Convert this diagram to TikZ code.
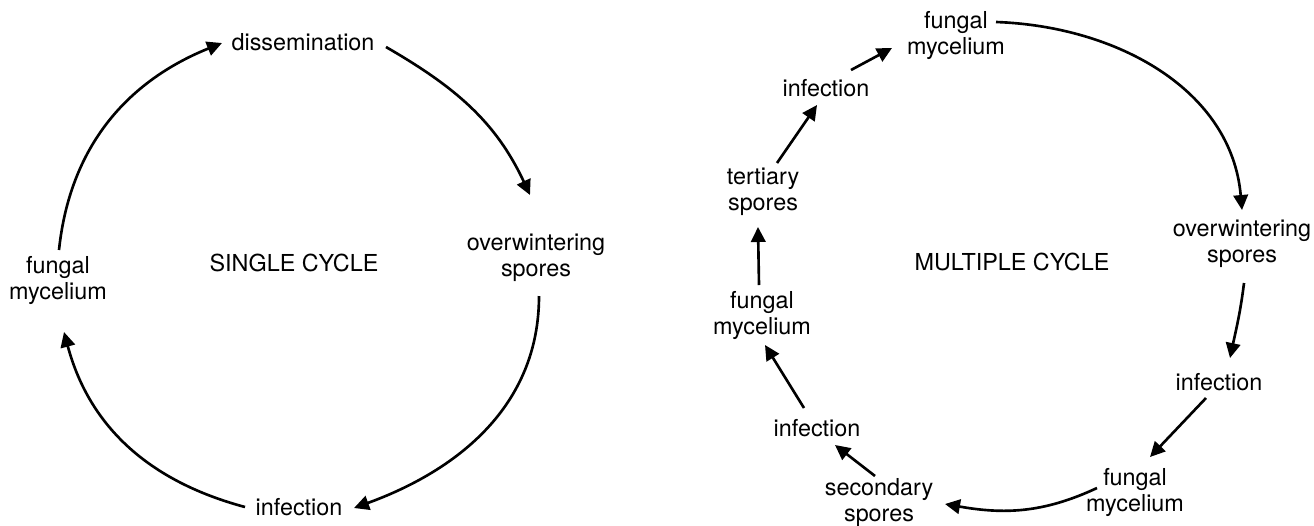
\documentclass[tikz,border=0pt]{standalone}
\usepackage{fontspec}
\setmainfont{TeX Gyre Heros}
\usetikzlibrary{arrows.meta}
\begin{document}
\begin{tikzpicture}[x=0.02cm,y=0.02cm,
  lbl/.style={font=\fontsize{13.3}{14.8}\selectfont, align=center, inner sep=0pt},
  flow/.style={line width=1.5pt, -{Triangle[length=0.3cm,width=0.29cm]}}]
\useasboundingbox (0,0) rectangle (1314,-525);

% ---------------- single cycle ----------------
\node[lbl] (dis) at (303,-42)  {dissemination};
\node[lbl] (ow)  at (536,-258) {overwintering\\spores};
\node[lbl] (inf) at (299,-507) {infection};
\node[lbl] (fm)  at (58,-280)  {fungal\\mycelium};
\node[lbl] (sc)  at (294,-263) {SINGLE CYCLE};

\draw[flow] ([shift={(1,30)}]fm.center) to[out=84,in=202] ([shift={(-81,-1)}]dis.center);
\draw[flow] ([shift={(83,-5)}]dis.center) to[out=-30,in=115] ([shift={(-6,63)}]ow.center);
\draw[flow] ([shift={(3,-38)}]ow.center) to[out=-90,in=20] ([shift={(55,-1)}]inf.center);
\draw[flow] ([shift={(-54,0)}]inf.center) to[out=165,in=-75] ([shift={(6,-52)}]fm.center);

% ---------------- multiple cycle ----------------
\node[lbl] (tfm)  at (956,-35)   {fungal\\mycelium};
\node[lbl] (ow2)  at (1242,-244) {overwintering\\spores};
\node[lbl] (inf2) at (1219,-382) {infection};
\node[lbl] (bfm)  at (1135,-492) {fungal\\mycelium};
\node[lbl] (sec)  at (879,-503)  {secondary\\spores};
\node[lbl] (inf3) at (817,-428)  {infection};
\node[lbl] (mfm)  at (762,-315)  {fungal\\mycelium};
\node[lbl] (ter)  at (763,-192)  {tertiary\\spores};
\node[lbl] (inf4) at (826,-88)   {infection};
\node[lbl] (mc)   at (1012,-262) {MULTIPLE CYCLE};

\draw[flow] ([shift={(40,13)}]tfm.center) to[out=-2,in=95] ([shift={(0,34)}]ow2.center);
\draw[flow] ([shift={(2,-39)}]ow2.center) to[out=-97,in=78] ([shift={(11,24)}]inf2.center);
\draw[flow] ([shift={(-13,-16)}]inf2.center) -- ([shift={(15,35)}]bfm.center);
\draw[flow] ([shift={(-38,4)}]bfm.center) to[out=205,in=-10] ([shift={(66,-1)}]sec.center);
\draw[flow] ([shift={(-4,27)}]sec.center) -- ([shift={(18,-17)}]inf3.center);
\draw[flow] ([shift={(-13,20)}]inf3.center) -- ([shift={(3,-30)}]mfm.center);
\draw[flow] ([shift={(-3,30)}]mfm.center) -- ([shift={(-5,-35)}]ter.center);
\draw[flow] ([shift={(14,29)}]ter.center) -- ([shift={(-9,-17)}]inf4.center);
\draw[flow] ([shift={(25,18)}]inf4.center) -- ([shift={(-64,-13)}]tfm.center);
\end{tikzpicture}
\end{document}
